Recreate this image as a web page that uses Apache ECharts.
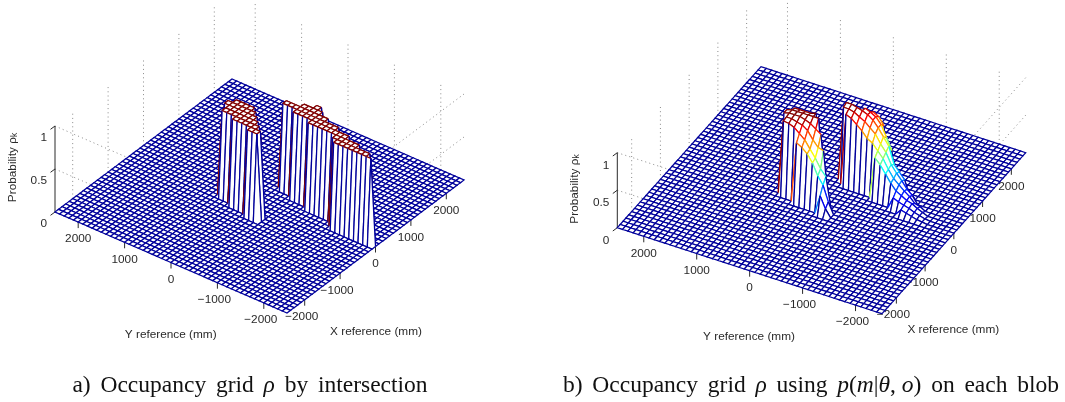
<!DOCTYPE html>
<html>
<head>
<meta charset="utf-8">
<style>html,body{margin:0;padding:0;background:#fff}#c{width:1065px;height:402px}</style>
<script src="https://cdn.jsdelivr.net/npm/echarts@6/dist/echarts.min.js"></script>
</head>
<body>
<div id="c"></div>
<script>
// Axis ticks
const xTicks = [-2000, -1000, 0, 1000, 2000];
const yTicks = [2000, 1000, 0, -1000, -2000];
const zTicks = [0, 0.5, 1];
const zTickLabels = ['0', '0.5', '1'];
const cellsPerSide = 50;           // 100 mm mesh over -2500..2500 mm

// Occupancy values: [row j (Y), first column i (X), values...]; everything else is 0
const intersectionLeftBlob = [
  [31, 23, [1, 1]],
  [30, 21, [1, 1, 1, 1, 1]],
  [29, 21, [1, 1, 1, 1, 1]],
  [28, 21, [1, 1, 1, 1, 1]],
  [27, 20, [1, 1, 1, 1, 1, 1]],
  [26, 20, [1, 1, 1, 1, 1, 1]],
  [25, 20, [1, 1, 1, 1, 1]],
  [24, 20, [1, 1, 1, 1]],
  [23, 19, [1, 1, 1, 1]],
  [22, 19, [1, 1, 1]],
  [21, 19, [1, 1]]
];
const intersectionRightBlob = [
  [23, 29, [1, 1]], [22, 29, [1, 1]], [21, 29, [1, 1]],
  [20, 28, [1, 1, 1, 1]], [19, 28, [1, 1, 1, 1]],
  [18, 28, [1, 1, 1, 1, 1]], [17, 28, [1, 1, 1, 1, 1]],
  [16, 27, [1, 1, 1, 1, 1]], [15, 27, [1, 1, 1, 1]], [14, 27, [1, 1, 1, 1]],
  [13, 27, [1, 1, 1]], [12, 27, [1, 1, 1]], [11, 27, [1, 1, 1]],
  [10, 26, [1, 1, 1]], [9, 25, [1, 1, 1, 1]], [8, 25, [1, 1, 1, 1]],
  [7, 25, [1, 1, 1]], [6, 25, [1, 1, 1]], [5, 25, [1, 1, 1]],
  [4, 25, [1, 1]], [3, 25, [1, 1]], [2, 25, [1, 1]],
  [1, 25, [1]]
];
const blobModelLeft = [
  [31, 23, [0.98, 0.98]],
  [30, 21, [0.98, 0.99, 1, 1, 0.98]],
  [29, 21, [0.97, 0.99, 1, 1, 0.98]],
  [28, 21, [0.94, 0.97, 1, 1, 0.98]],
  [27, 20, [0.8, 0.88, 0.95, 0.98, 1, 0.98]],
  [26, 20, [0.76, 0.82, 0.9, 0.95, 1, 1]],
  [25, 20, [0.7, 0.72, 0.8, 0.9, 1]],
  [24, 20, [0.6, 0.62, 0.72, 0.85]],
  [23, 20, [0.45, 0.5, 0.7]],
  [22, 19, [0.25, 0.35, 0.42]],
  [21, 19, [0.1, 0.15]]
];
const blobModelRight = [
  [23, 29, [0.98, 1]],
  [22, 28, [0.95, 0.98, 1]],
  [21, 28, [0.92, 0.96, 0.98]],
  [20, 28, [0.86, 0.92, 0.96, 0.95]],
  [19, 28, [0.8, 0.88, 0.93, 0.92, 0.88]],
  [18, 28, [0.72, 0.82, 0.88, 0.88, 0.84]],
  [17, 28, [0.68, 0.76, 0.8, 0.8, 0.74]],
  [16, 27, [0.55, 0.6, 0.65, 0.7, 0.65]],
  [15, 27, [0.48, 0.52, 0.56, 0.6, 0.5]],
  [14, 27, [0.38, 0.4, 0.42, 0.38]],
  [13, 27, [0.28, 0.3, 0.33, 0.3]],
  [12, 26, [0.15, 0.2, 0.24, 0.25, 0.22]],
  [11, 26, [0.12, 0.16, 0.18, 0.16]],
  [10, 25, [0.08, 0.1, 0.12, 0.13, 0.1]],
  [9, 25, [0.06, 0.08, 0.1, 0.06]],
  [8, 25, [0.04, 0.05, 0.06, 0.04]],
  [7, 25, [0.02, 0.03, 0.03]],
  [6, 25, [0.01, 0.01]]
];

const panels = [
  { origin: [287, 313], xVec: [177, -133], yVec: [-232, -101], zH: 86, zLabelDy: 12,
    occ: [intersectionLeftBlob, intersectionRightBlob],
    yTitle: [170.7, 335], xTitle: [376, 332], zTitle: [13, 167.5] },
  { origin: [882, 313.7], xVec: [143.7, -161], yVec: [-264.7, -86], zH: 75, zLabelDy: 13,
    occ: [blobModelLeft, blobModelRight],
    yTitle: [749, 337], xTitle: [953.3, 330], zTitle: [574.7, 189] }
];

const JET = [[0, 0, 0, 155], [0.125, 0, 0, 255], [0.375, 0, 255, 255], [0.625, 255, 255, 0], [0.875, 255, 0, 0], [1, 128, 0, 0]];
function jet(z) {
  for (let k = 1; k < JET.length; k++) {
    if (z <= JET[k][0]) {
      const a = JET[k - 1], b = JET[k], t = (z - a[0]) / (b[0] - a[0]);
      return 'rgb(' + [1, 2, 3].map(c => Math.round(a[c] + (b[c] - a[c]) * t)).join(',') + ')';
    }
  }
  return 'rgb(128,0,0)';
}
function project(p, xMm, yMm, z) {
  const u = (xMm + 2500) / 5000, v = (yMm + 2500) / 5000;
  return [p.origin[0] + u * p.xVec[0] + v * p.yVec[0],
          p.origin[1] + u * p.xVec[1] + v * p.yVec[1] - z * p.zH];
}
function gridFor(p) {
  const n = cellsPerSide, g = [];
  for (let i = 0; i <= n; i++) g.push(new Array(n + 1).fill(0));
  p.occ.forEach(rows => rows.forEach(r => r[2].forEach((val, k) => { g[r[1] + k][r[0]] = val; })));
  return g;
}
function cellsFor(p) {
  const n = cellsPerSide, g = gridFor(p), out = [];
  for (let i = n - 1; i >= 0; i--) for (let j = n - 1; j >= 0; j--) {
    out.push([i, j, g[i][j], g[i + 1][j], g[i][j + 1], g[i + 1][j + 1]]);
  }
  return out;
}
const AXIS = '#2a2a2a';
const FONT = '"Liberation Sans", Arial, sans-serif';
const MESH_W = 1.25;
function txt(x, y, text, extra) {
  return Object.assign({ type: 'text', silent: true, x: x, y: y,
    style: Object.assign({ text: text, x: 0, y: 0, fill: AXIS, font: '11.8px ' + FONT, align: 'center', verticalAlign: 'middle' }, extra && extra.style) },
    extra && extra.el);
}
function seg(api, a, b, stroke, w, dash) {
  const A = api.coord(a), B = api.coord(b);
  return { type: 'line', silent: true, shape: { x1: A[0], y1: A[1], x2: B[0], y2: B[1] },
    style: { stroke: stroke, lineWidth: w, lineDash: dash || null, fill: null } };
}
function decor(p) {
  return function (params, api) {
    const ch = [], dash = [1, 3.2], dot = '#8a8a8a';
    // vertical dotted grid on both back walls
    xTicks.forEach(t => ch.push(seg(api, project(p, t, 2500, 0), project(p, t, 2500, 1), dot, 1, dash)));
    yTicks.forEach(t => ch.push(seg(api, project(p, 2500, t, 0), project(p, 2500, t, 1), dot, 1, dash)));
    // z-level dotted grid
    zTicks.filter(z => z > 0).forEach(z => {
      ch.push(seg(api, project(p, -2500, 2500, z), project(p, -2500, -2500, z), dot, 1, dash));
      ch.push(seg(api, project(p, 2500, -2500, z), project(p, -2500, -2500, z), dot, 1, dash));
    });
    // z axis
    ch.push(seg(api, project(p, -2500, 2500, 0), project(p, -2500, 2500, 1), AXIS, 1));
    zTicks.forEach((z, k) => {
      const q = project(p, -2500, 2500, z);
      ch.push(seg(api, q, [q[0] - 4.5, q[1] + 3.3], AXIS, 1));
      const c = api.coord(q);
      ch.push(txt(c[0] - 8, c[1] + p.zLabelDy, zTickLabels[k], { style: { align: 'right' } }));
    });
    const fmt = t => (t < 0 ? '\u2212' + (-t) : String(t));
    yTicks.forEach(t => {
      const q = project(p, -2500, t, 0);
      ch.push(seg(api, q, [q[0], q[1] + 6], AXIS, 1));
      const c = api.coord(q);
      ch.push(txt(c[0] - (t < 0 ? 3 : 0), c[1] + 17, fmt(t)));
    });
    xTicks.forEach(t => {
      const q = project(p, t, -2500, 0);
      ch.push(seg(api, q, [q[0], q[1] + 6], AXIS, 1));
      const c = api.coord(q);
      ch.push(txt(c[0] - (t < 0 ? 3 : 0), c[1] + 17.5, fmt(t)));
    });
    const yT = api.coord(p.yTitle), xT = api.coord(p.xTitle), zT = api.coord(p.zTitle);
    ch.push(txt(yT[0], yT[1], 'Y reference (mm)'));
    ch.push(txt(xT[0], xT[1], 'X reference (mm)'));
    ch.push(txt(zT[0], zT[1], 'Probability \u03c1{k|k}', {
      el: { rotation: Math.PI / 2 },
      style: { rich: { k: { font: '8.5px ' + FONT, fill: AXIS, verticalAlign: 'bottom', lineHeight: 10 } } }
    }));
    return { type: 'group', children: ch };
  };
}
function meshRender(p) {
  const step = 5000 / cellsPerSide;
  return function (params, api) {
    const i = api.value(0), j = api.value(1);
    const z00 = api.value(2), z10 = api.value(3), z01 = api.value(4), z11 = api.value(5);
    const P = (a, b, z) => api.coord(project(p, -2500 + a * step, -2500 + b * step, z));
    const a = P(i, j, z00), b = P(i + 1, j, z10), c = P(i + 1, j + 1, z11), d = P(i, j + 1, z01);
    if (z00 === 0 && z10 === 0 && z01 === 0 && z11 === 0) {
      return { type: 'polygon', silent: true, shape: { points: [a, b, c, d] },
        style: { fill: '#fff', stroke: jet(0), lineWidth: MESH_W, lineJoin: 'miter' } };
    }
    const edge = (A, B, z) => ({ type: 'line', silent: true,
      shape: { x1: A[0], y1: A[1], x2: B[0], y2: B[1] }, style: { stroke: jet(z), lineWidth: MESH_W, fill: null } });
    return { type: 'group', children: [
      { type: 'polygon', silent: true, shape: { points: [a, b, c, d] }, style: { fill: '#fff', stroke: null } },
      edge(d, c, z01), edge(b, c, z10), edge(a, b, z00), edge(a, d, z00)
    ] };
  };
}

const series = [];
panels.forEach(p => {
  series.push({ type: 'custom', coordinateSystem: 'cartesian2d', data: [[0, 0]], z: 1, clip: false,
    animation: false, silent: true, renderItem: decor(p) });
  series.push({ type: 'custom', coordinateSystem: 'cartesian2d', data: cellsFor(p), z: 2, clip: false,
    animation: false, silent: true, progressive: 0, renderItem: meshRender(p) });
});
const serif = '"Liberation Serif", "Times New Roman", serif';
const W = ' \u2006';
const capStyle = { fontFamily: serif, fontSize: 23.5, fontWeight: 'normal', color: '#111',
  rich: { i: { fontFamily: serif, fontStyle: 'italic', fontSize: 23.5, color: '#111' } } };
const chart = echarts.init(document.getElementById('c'), null, { renderer: 'canvas' });
chart.setOption({
  animation: false,
  backgroundColor: '#fff',
  grid: { left: 0, right: 0, top: 0, bottom: 0 },
  xAxis: { type: 'value', min: 0, max: 1065, show: false },
  yAxis: { type: 'value', min: 0, max: 402, inverse: true, show: false },
  title: [
    { text: ['a)', 'Occupancy', 'grid', '{i|\u03c1}', 'by', 'intersection'].join(W), left: 245, top: 369, textAlign: 'center', textStyle: capStyle },
    { text: ['b)', 'Occupancy', 'grid', '{i|\u03c1}', 'using', '{i|p}({i|m}|{i|\u03b8}, {i|o})', 'on', 'each', 'blob'].join(W), left: 806, top: 369, textAlign: 'center', textStyle: capStyle }
  ],
  series: series
});
</script>
</body>
</html>
